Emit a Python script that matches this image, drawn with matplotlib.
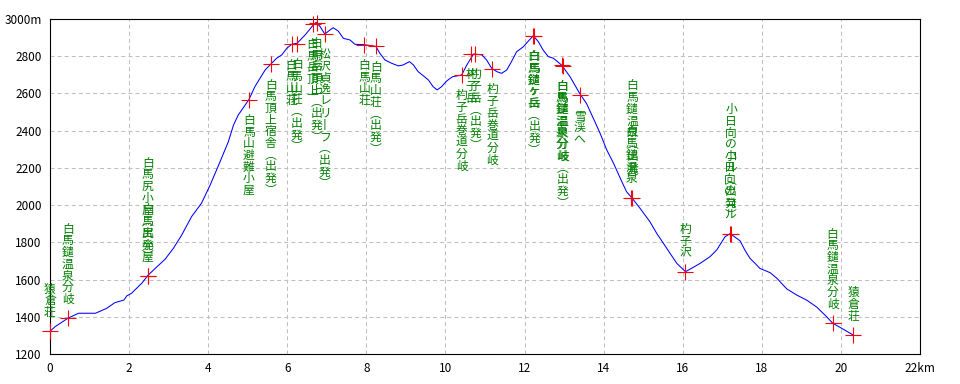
import matplotlib
matplotlib.use("Agg")
import matplotlib.pyplot as plt

plt.rcParams['font.family'] = ['Noto Sans CJK JP', 'DejaVu Sans']
plt.rcParams['lines.scale_dashes'] = False

# ----------------------------
# DATA
# ----------------------------
# elevation profile (distance km, elevation m)
dist_km = [0.00, 0.13, 0.45, 0.72, 1.15, 1.43, 1.64, 1.87, 1.94, 2.06,
           2.32, 2.47, 2.66, 2.91, 3.12, 3.33, 3.58, 3.83, 4.05, 4.30,
           4.51, 4.64, 4.76, 5.03, 5.18, 5.31, 5.44, 5.58, 5.73, 5.86,
           5.99, 6.11, 6.25, 6.45, 6.66, 6.73, 6.83, 6.95, 7.08, 7.16,
           7.29, 7.42, 7.59, 7.71, 7.95, 8.24, 8.34, 8.47, 8.64, 8.81,
           8.93, 9.09, 9.19, 9.31, 9.44, 9.57, 9.69, 9.79, 9.90, 10.03,
           10.18, 10.41, 10.54, 10.71, 10.92, 11.04, 11.17, 11.30, 11.42, 11.55,
           11.67, 11.80, 11.97, 12.12, 12.22, 12.35, 12.47, 12.60, 12.73, 12.94,
           13.15, 13.40, 13.57, 13.74, 13.91, 14.08, 14.25, 14.46, 14.58, 14.71,
           14.92, 15.17, 15.34, 15.51, 15.68, 15.85, 16.07, 16.27, 16.44, 16.69,
           16.86, 17.07, 17.20, 17.45, 17.57, 17.70, 17.83, 17.95, 18.21, 18.38,
           18.63, 18.88, 19.13, 19.39, 19.64, 19.79, 20.02, 20.31]
elev_m = [1322, 1347, 1392, 1419, 1419, 1445, 1476, 1490, 1512, 1526,
          1580, 1621, 1660, 1709, 1768, 1839, 1938, 2010, 2108, 2233,
          2341, 2430, 2484, 2567, 2636, 2681, 2726, 2757, 2789, 2807,
          2843, 2864, 2870, 2914, 2968, 2982, 2959, 2919, 2941, 2953,
          2935, 2896, 2887, 2864, 2862, 2853, 2816, 2780, 2762, 2748,
          2753, 2771, 2753, 2717, 2695, 2672, 2636, 2619, 2636, 2667,
          2690, 2699, 2753, 2812, 2807, 2780, 2735, 2717, 2708, 2726,
          2771, 2824, 2851, 2887, 2910, 2878, 2833, 2798, 2789, 2752,
          2690, 2598, 2545, 2466, 2386, 2296, 2225, 2126, 2072, 2040,
          1983, 1911, 1849, 1795, 1741, 1687, 1642, 1666, 1687, 1723,
          1759, 1830, 1847, 1808, 1759, 1714, 1687, 1660, 1637, 1607,
          1550, 1517, 1490, 1452, 1400, 1366, 1338, 1302]

# waypoints
wp_km = [0.00, 0.45, 2.47, 2.47, 5.03, 5.58, 6.11, 6.24, 6.64, 6.74,
         6.95, 7.95, 8.24, 10.41, 10.65, 10.75, 11.18, 12.22, 12.24, 12.94,
         12.96, 13.39, 14.70, 14.72, 16.07, 17.20, 17.22, 19.79, 20.31]
wp_elev = [1322, 1392, 1621, 1621, 2567, 2757, 2864, 2866, 2975, 2980,
           2919, 2862, 2853, 2699, 2812, 2812, 2731, 2910, 2910, 2752,
           2750, 2590, 2040, 2036, 1642, 1847, 1845, 1366, 1302]
wp_name = ["猿倉荘", "白馬鑓温泉分岐", "白馬尻小屋", "白馬尻小屋（出発）",
           "白馬山避難小屋", "白馬頂上宿舎（出発）", "白馬山荘", "白馬山荘（出発）",
           "白馬岳頂上", "白馬岳頂上（出発）", "松沢貞逸レリーフ（出発）",
           "白馬山荘", "白馬山荘（出発）", "杓子岳巻道分岐", "杓子岳", "杓子岳（出発）",
           "杓子岳巻道分岐", "白馬鑓ヶ岳", "白馬鑓ヶ岳（出発）", "白馬鑓温泉分岐",
           "白馬鑓温泉分岐（出発）", "雪渓へ", "白馬鑓温泉", "白馬鑓温泉（出発）",
           "杓子沢", "小日向のコル", "小日向のコル（出発）", "白馬鑓温泉分岐", "猿倉荘"]

x_ticks = [0, 2, 4, 6, 8, 10, 12, 14, 16, 18, 20, 22]
y_ticks = [1200, 1400, 1600, 1800, 2000, 2200, 2400, 2600, 2800, 3000]

# vertical forms for upright text
VERT = {"（": "︵", "）": "︶", "ー": "丨"}
PITCH = 11.7   # px per character
GAP = 14       # px between marker and label
FS = 8.5


# ----------------------------
# FIGURE
# ----------------------------
fig = plt.figure(figsize=(9.6, 3.84), dpi=100)
ax = fig.add_axes([50 / 960, 30 / 384, 870 / 960, 335 / 384])
ax.set_xlim(0, 22)
ax.set_ylim(1200, 3000)

ax.set_xticks(x_ticks)
ax.set_yticks(y_ticks)
ax.set_xticklabels([f"{t}km" if t == x_ticks[-1] else f"{t}" for t in x_ticks])
ax.set_yticklabels([f"{t}m" if t == y_ticks[-1] else f"{t}" for t in y_ticks])
ax.tick_params(length=0, pad=6, labelsize=FS, colors="black")

ax.grid(True, color="#c0c0c0", linestyle=(0, (2.9, 2.2)), linewidth=0.75)
ax.set_axisbelow(True)
for spine in ax.spines.values():
    spine.set_color("black")
    spine.set_linewidth(0.8)

ax.plot(dist_km, elev_m, color="#0000ff", linewidth=0.75, zorder=3)
ax.plot(wp_km, wp_elev, linestyle="none", marker="+", markersize=11.5,
        markeredgewidth=0.8, color="#ff0000", zorder=4, clip_on=False)


def vlabel(x, y, text, below):
    chars = [VERT.get(c, c) for c in text]
    n = len(chars)
    for i, ch in enumerate(chars):
        if below:
            dy = -(GAP + (i + 0.5) * PITCH)
        else:
            dy = GAP + (n - i - 0.5) * PITCH
        ax.annotate(ch, (x, y), xytext=(0, dy - 4.5), textcoords="offset pixels",
                    ha="center", va="baseline", fontsize=FS, color="#008000",
                    annotation_clip=False, zorder=5)


for x, y, name in zip(wp_km, wp_elev, wp_name):
    vlabel(x, y, name, below=y > 2100)

fig.savefig("out.png", dpi=100)
